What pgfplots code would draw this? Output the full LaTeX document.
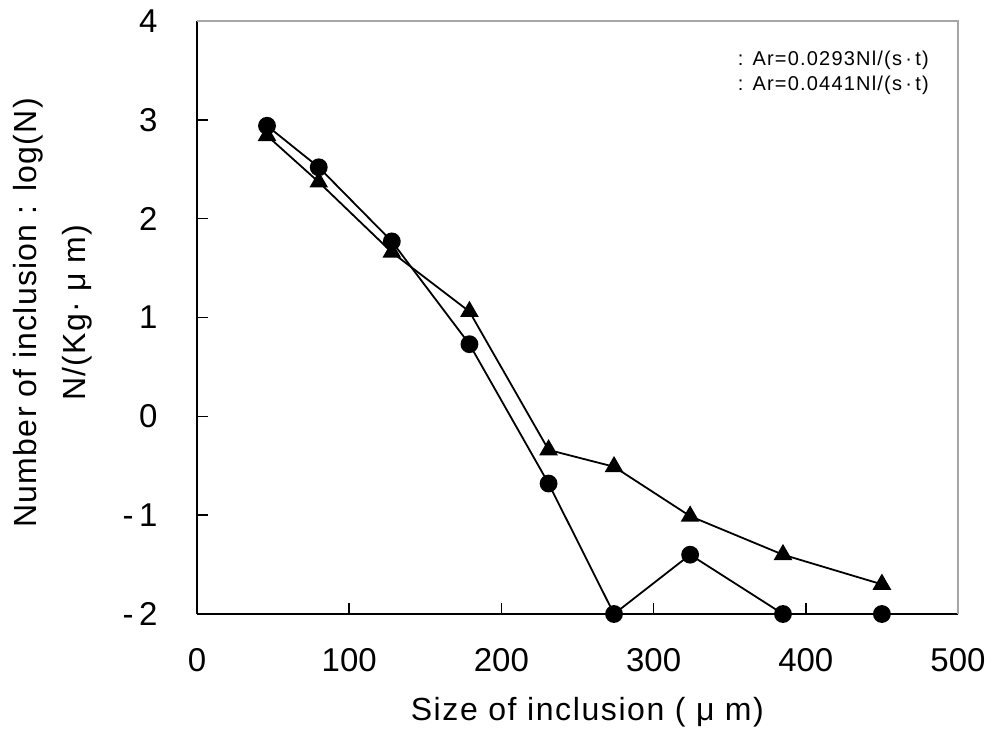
\documentclass[border=0pt]{standalone}
\usepackage{pgfplots}
\pgfplotsset{compat=1.18}
\usepackage{fontspec}
\setmainfont{Liberation Sans}
\newfontfamily\spacedfont[LetterSpace=6]{Liberation Sans}
\newfontfamily\labelfont[LetterSpace=5]{Liberation Sans}
\newfontfamily\ylabelfont[LetterSpace=4]{Liberation Sans}

\pgfplotstableread{
x    y
46   2.94
80   2.52
128  1.77
179  0.73
231  -0.68
274  -2.00
324  -1.40
385  -2.00
450  -2.00
}\lowflow

\pgfplotstableread{
x    y
46   2.84
80   2.37
128  1.66
179  1.06
231  -0.34
274  -0.51
324  -1.01
385  -1.40
450  -1.70
}\highflow

\begin{document}
\begin{tikzpicture}
\useasboundingbox (-197pt,-117pt) rectangle (795pt,614pt);
\begin{axis}[
  at={(0,0)}, anchor=south west,
  scale only axis,
  width=761pt, height=593pt,
  xmin=0, xmax=500, ymin=-2, ymax=4,
  xtick={0,100,...,500},
  ytick={-2,-1,0,1,2,3,4},
  yticklabels={-\,2,-\,1,0,1,2,3,4},
  axis x line*=bottom,
  axis y line*=left,
  x axis line style={line width=2.6pt, -},
  y axis line style={line width=2pt, -},
  tick align=inside,
  major tick length=11pt,
  tick style={line width=1.5pt, black},
  /pgf/number format/assume math mode=true,
  tick label style={font=\fontsize{33}{40}\selectfont},
  xticklabel style={yshift=-31pt},
  yticklabel style={anchor=east, xshift=-36pt},
  clip=false,
  xlabel={Size of inclusion ( μ m)},
  xlabel style={font=\labelfont\fontsize{32}{40}\selectfont, at={(axis description cs:0.513,0)}, anchor=center, yshift=-98pt},
  ylabel={Number of inclusion : log(N)\\N/(Kg· μ m)},
  ylabel style={font=\ylabelfont\fontsize{32}{49}\selectfont, align=center, at={(axis description cs:-0.19,0.508)}, anchor=center},
  legend style={draw=none, fill=none, at={(axis description cs:0.708,0.953)}, anchor=north west,
    font=\spacedfont\fontsize{20}{27}\selectfont, row sep=5pt, inner sep=0pt},
  legend cell align=left,
  legend image code/.code={},
]
\draw[gray!70, line width=1.3pt] (rel axis cs:0,1) -- (rel axis cs:1,1) -- (rel axis cs:1,0);
\addplot[black, line width=1.8pt, mark=*, mark size=8pt] table[x=x, y=y] {\lowflow};
\addlegendentry{: Ar=0.0293Nl/(s\,·\,t)}
\addplot[black, line width=1.8pt, mark=triangle*, mark size=9pt] table[x=x, y=y] {\highflow};
\addlegendentry{: Ar=0.0441Nl/(s\,·\,t)}
\end{axis}
\end{tikzpicture}
\end{document}
